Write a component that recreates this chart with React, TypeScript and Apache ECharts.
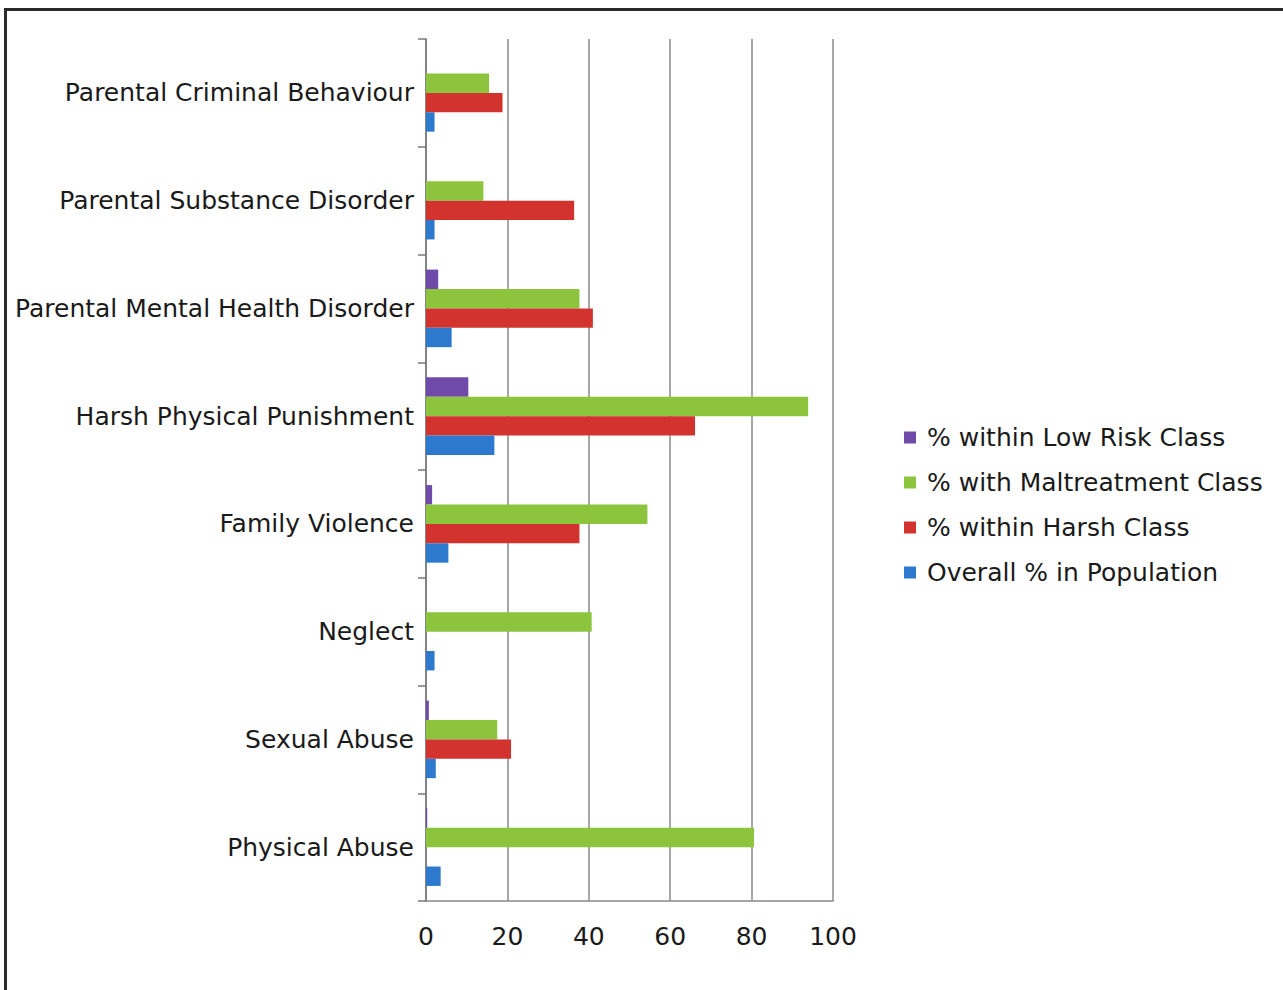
import React, { useEffect, useRef } from "react";
import * as echarts from "echarts";

// Categories listed bottom-to-top (ECharts y category axis starts at the bottom)
const categories = [
  "Physical Abuse",
  "Sexual Abuse",
  "Neglect",
  "Family Violence",
  "Harsh Physical Punishment",
  "Parental Mental Health Disorder",
  "Parental Substance Disorder",
  "Parental Criminal Behaviour",
];

const lowRisk = [0.3, 0.7, 0, 1.5, 10.4, 3.0, 0, 0];
const maltreatment = [80.6, 17.5, 40.7, 54.4, 93.9, 37.7, 14.1, 15.5];
const harsh = [0, 20.9, 0, 37.7, 66.1, 41.0, 36.4, 18.8];
const overall = [3.6, 2.4, 2.1, 5.5, 16.8, 6.3, 2.1, 2.1];

const xTicks = { min: 0, max: 100, interval: 20 };

const names = {
  lowRisk: "% within Low Risk Class",
  maltreatment: "% with Maltreatment Class",
  harsh: "% within Harsh Class",
  overall: "Overall % in Population",
};

const colors = {
  lowRisk: "#6f4aa8",
  maltreatment: "#8cc43d",
  harsh: "#d3332f",
  overall: "#2c79cd",
};

export default function App() {
  const ref = useRef<HTMLDivElement>(null);

  useEffect(() => {
    if (!ref.current) return;
    const chart = echarts.init(ref.current, null, { renderer: "svg" });
    const font = "'DejaVu Sans', 'Liberation Sans', Arial, sans-serif";
    const mk = (key: keyof typeof names, data: number[]) => ({
      name: names[key],
      type: "bar",
      data,
      barGap: "0%",
      barCategoryGap: "28%",
      itemStyle: { color: colors[key] },
    });
    chart.setOption({
      animation: false,
      backgroundColor: "#ffffff",
      textStyle: { fontFamily: font },
      graphic: [
        {
          type: "rect",
          silent: true,
          shape: { x: 5.5, y: 9.5, width: 1400, height: 1100 },
          style: { fill: "none", stroke: "#2a2a2a", lineWidth: 3 },
        },
      ],
      grid: { left: 426, right: 450, top: 39, bottom: 89, containLabel: false },
      legend: {
        orient: "vertical",
        left: 899,
        top: 420,
        itemWidth: 12,
        itemHeight: 12,
        itemGap: 20,
        icon: "rect",
        data: [names.lowRisk, names.maltreatment, names.harsh, names.overall],
        textStyle: {
          fontSize: 25,
          color: "#1a1a1a",
          fontFamily: font,
          lineHeight: 25,
          padding: [0, 0, 0, 6],
        },
      },
      xAxis: {
        type: "value",
        min: xTicks.min,
        max: xTicks.max,
        interval: xTicks.interval,
        axisLine: { show: true, lineStyle: { color: "#888", width: 1.5 } },
        axisTick: { show: false },
        splitLine: { show: true, lineStyle: { color: "#8a8a8a", width: 1.5 } },
        axisLabel: { fontSize: 25, color: "#1a1a1a", margin: 23, fontFamily: font },
      },
      yAxis: {
        type: "category",
        data: categories,
        axisLine: { show: true, lineStyle: { color: "#777", width: 1.5 } },
        axisTick: { show: true, length: 8, lineStyle: { color: "#777", width: 1.5 } },
        axisLabel: { fontSize: 25, color: "#1a1a1a", margin: 12, fontFamily: font },
      },
      series: [
        mk("lowRisk", lowRisk),
        mk("maltreatment", maltreatment),
        mk("harsh", harsh),
        mk("overall", overall),
      ],
    });
    return () => chart.dispose();
  }, []);

  return (
    <div
      ref={ref}
      style={{ position: "fixed", left: 0, top: 0, width: 1283, height: 990 }}
    />
  );
}
